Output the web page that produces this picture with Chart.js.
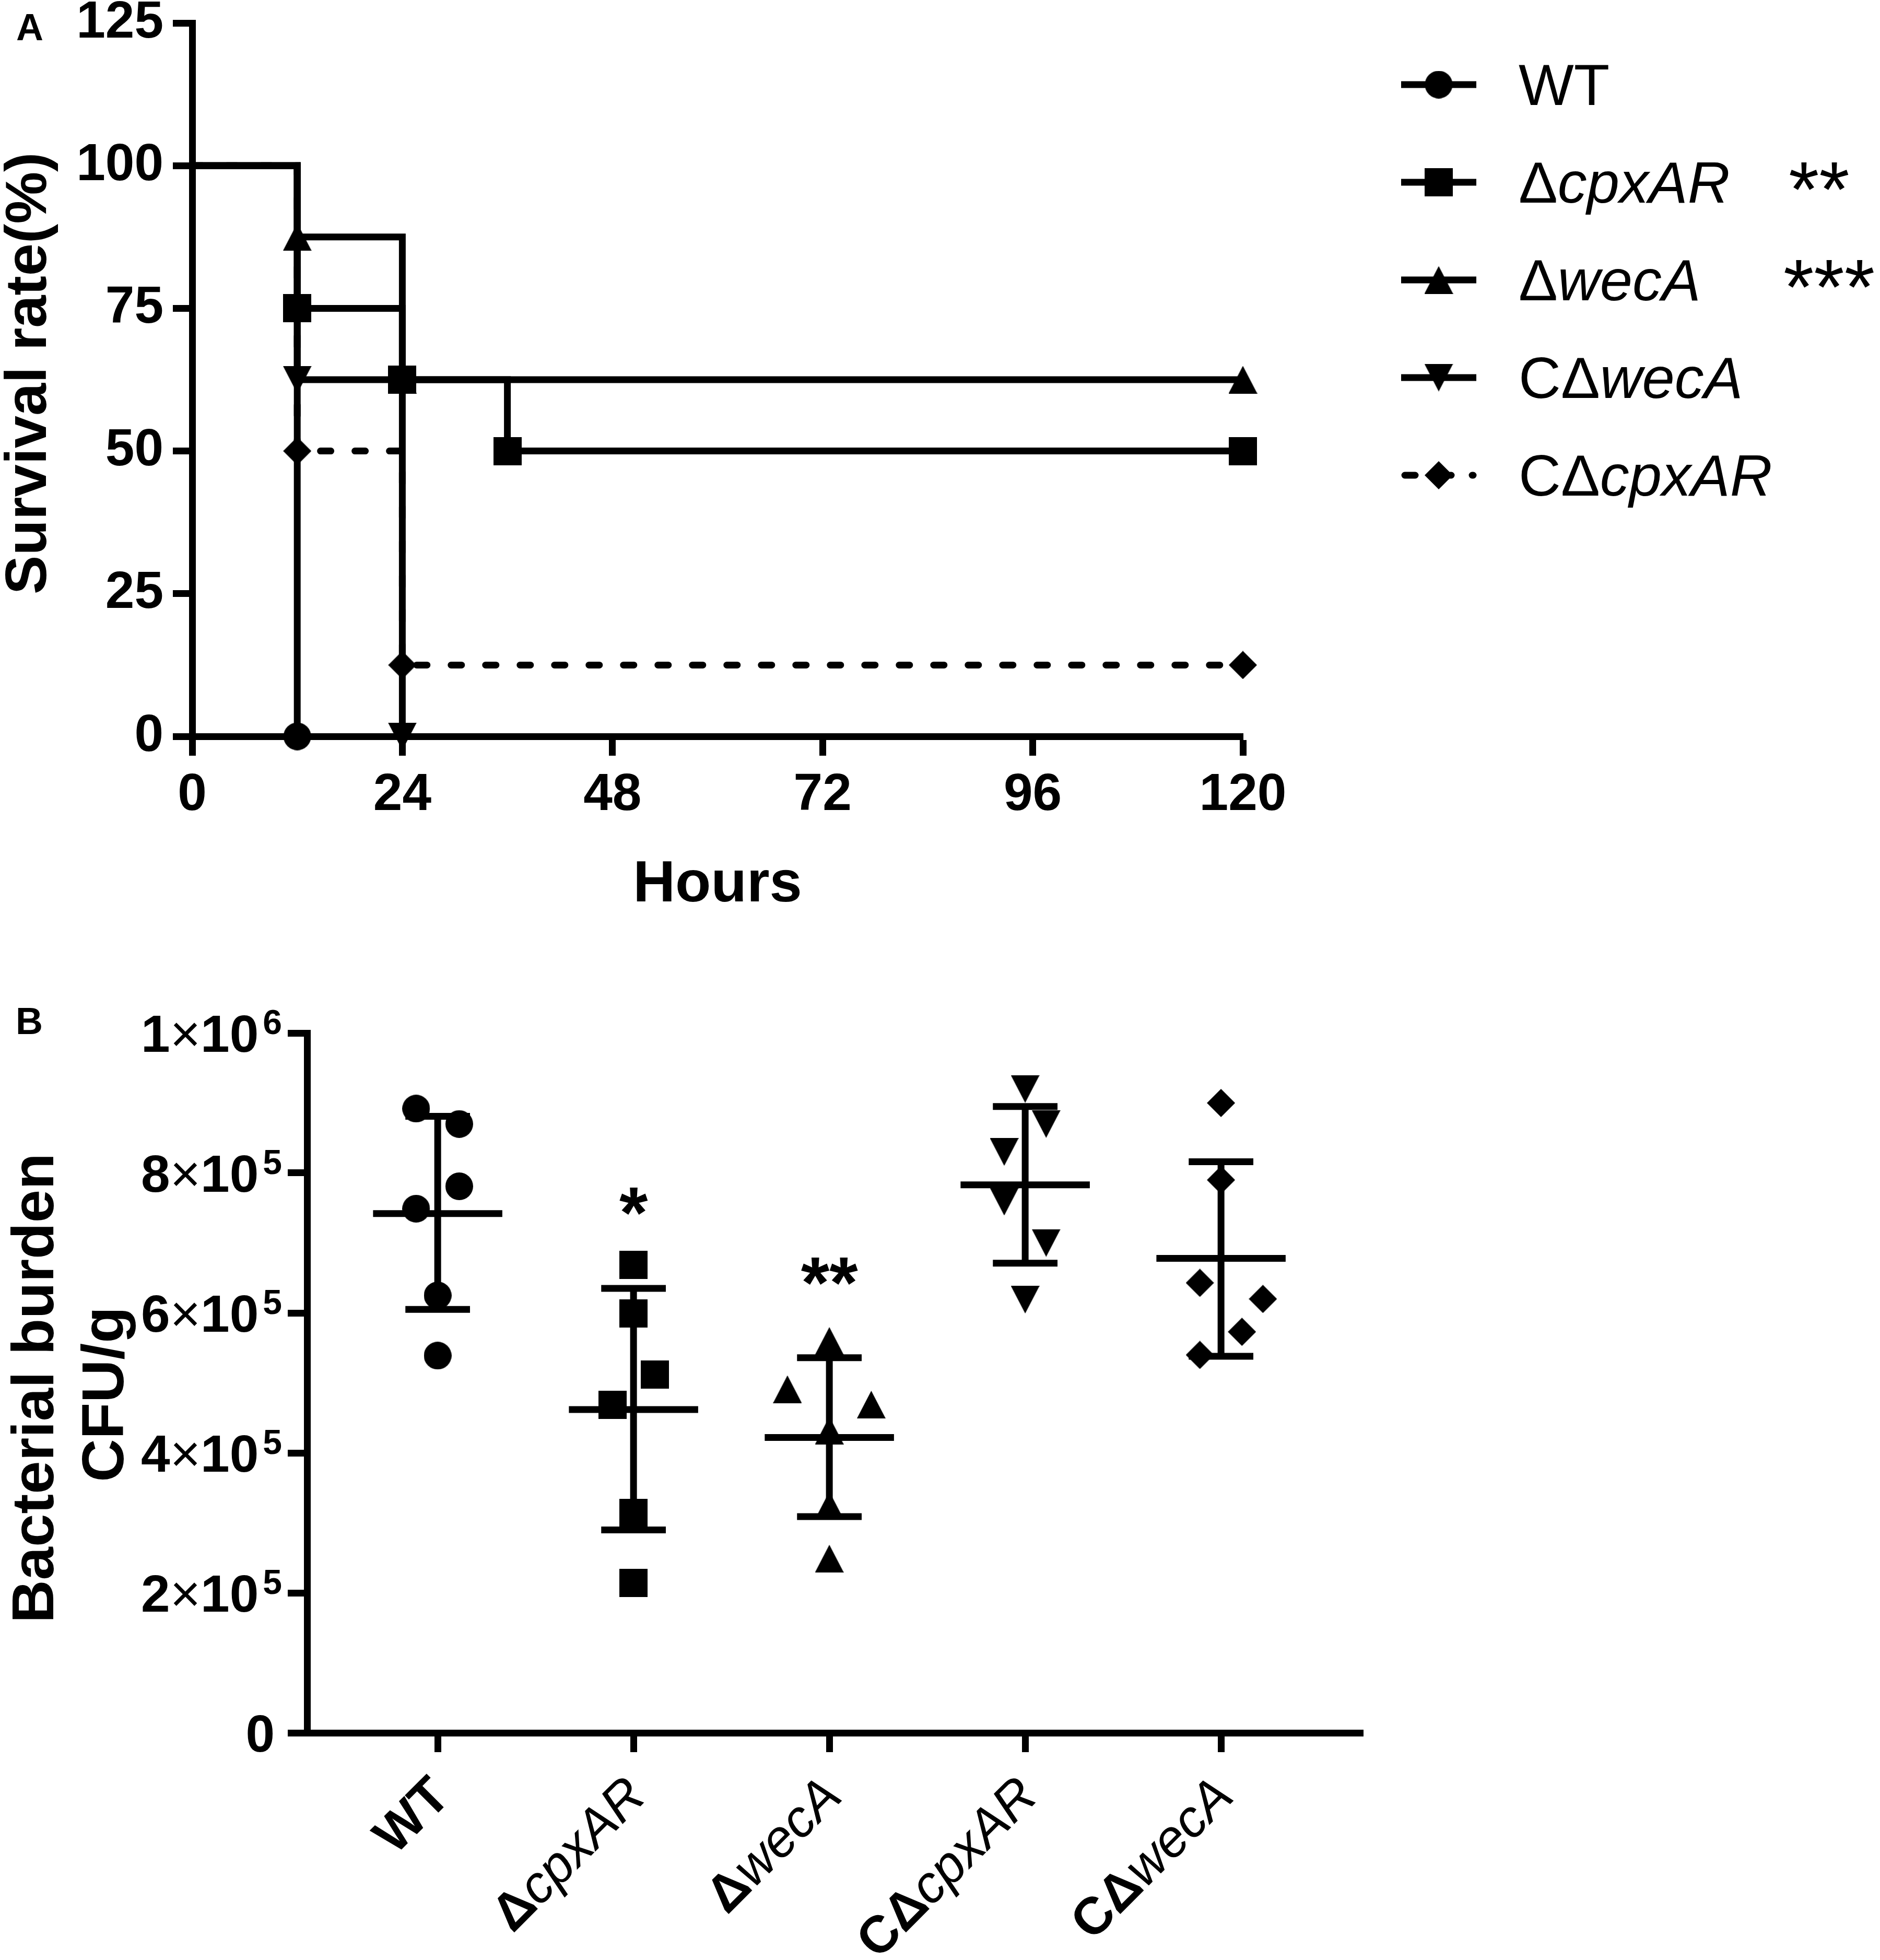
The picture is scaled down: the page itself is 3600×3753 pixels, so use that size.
<!DOCTYPE html>
<html>
<head>
<meta charset="utf-8">
<script src="https://cdn.jsdelivr.net/npm/chart.js@4.4.1/dist/chart.umd.min.js"></script>
<style>
  html, body { margin: 0; padding: 0; background: #fff; }
  body { width: 3600px; height: 3753px; position: relative; overflow: hidden; }
  .panel { position: absolute; left: 0; width: 3600px; }
  #boxA { top: 0; height: 1800px; }
  #boxB { top: 1800px; height: 1953px; }
</style>
</head>
<body>
<div class="panel" id="boxA"><canvas id="chartA"></canvas></div>
<div class="panel" id="boxB"><canvas id="chartB"></canvas></div>
<script>
// ---- Panel A : survival (Kaplan-Meier steps) ----
const seriesA = ['WT', 'ΔcpxAR', 'ΔwecA', 'CΔwecA', 'CΔcpxAR'];
const hoursWT = [0, 12];
const survWT = [100, 0];
const hoursCpx = [0, 12, 24, 36, 120];
const survCpx = [100, 75, 62.5, 50, 50];
const hoursWec = [0, 12, 24, 120];
const survWec = [100, 87.5, 62.5, 62.5];
const hoursCWec = [0, 12, 24];
const survCWec = [100, 62.5, 0];
const hoursCCpx = [0, 12, 24, 120];
const survCCpx = [100, 50, 12.5, 12.5];
const sigA = ['', '**', '***', '', ''];
const hourTicks = [0, 24, 48, 72, 96, 120];
const survTicks = [0, 25, 50, 75, 100, 125];

// ---- Panel B : bacterial burden ----
const groupsB = ['WT', 'ΔcpxAR', 'ΔwecA', 'CΔcpxAR', 'CΔwecA'];
const cfuWT = [8.92e5, 8.70e5, 7.81e5, 7.49e5, 6.25e5, 5.39e5];
const cfuCpx = [6.69e5, 5.99e5, 5.12e5, 4.69e5, 3.14e5, 2.14e5];
const cfuWec = [5.60e5, 4.91e5, 4.69e5, 4.32e5, 3.25e5, 2.49e5];
const cfuCCpx = [9.20e5, 8.70e5, 8.30e5, 7.59e5, 7.00e5, 6.19e5];
const cfuCWec = [9.00e5, 7.90e5, 6.43e5, 6.20e5, 5.73e5, 5.40e5];
const meanB = [7.42e5, 4.62e5, 4.22e5, 7.83e5, 6.78e5];
const sdHighB = [8.81e5, 6.35e5, 5.36e5, 8.95e5, 8.16e5];
const sdLowB = [6.05e5, 2.90e5, 3.09e5, 6.71e5, 5.38e5];
const starsB = ['', '*', '**', '', ''];
const starLevelB = [0, 7.6e5, 6.6e5, 0, 0];
const cfuTicks = [0, 2e5, 4e5, 6e5, 8e5, 1e6];
const cfuTickBase = ['0', '2', '4', '6', '8', '1'];
const cfuTickExp = ['', '5', '5', '5', '5', '6'];

// horizontal spread of the dots inside each group (as in the figure)
const jitterWT = [-0.11, 0.11, 0.11, -0.11, 0, 0];
const jitterCpx = [0, 0, 0.108, -0.108, 0, 0];
const jitterWec = [0, -0.214, 0.214, 0, 0, 0];
const jitterCCpx = [0, 0.107, -0.107, -0.107, 0.107, 0];
const jitterCWec = [0, 0, -0.108, 0.214, 0.107, -0.108];

const FONT = '"Liberation Sans", Arial, sans-serif';
const black = '#000';
Chart.defaults.font.family = FONT;
Chart.defaults.color = black;

// marker pictures
function marker(shape, w, h) {
  const c = document.createElement('canvas');
  c.width = w; c.height = h;
  const g = c.getContext('2d');
  g.fillStyle = black;
  g.beginPath();
  if (shape === 'circle') g.arc(w / 2, h / 2, w / 2, 0, Math.PI * 2);
  else if (shape === 'square') g.rect(0, 0, w, h);
  else if (shape === 'up') { g.moveTo(w / 2, 0); g.lineTo(w, h); g.lineTo(0, h); }
  else if (shape === 'down') { g.moveTo(0, 0); g.lineTo(w, 0); g.lineTo(w / 2, h); }
  else if (shape === 'diamond') { g.moveTo(w / 2, 0); g.lineTo(w, h / 2); g.lineTo(w / 2, h); g.lineTo(0, h / 2); }
  g.closePath();
  g.fill();
  return c;
}
const mCircle = marker('circle', 53, 53);
const mSquare = marker('square', 54, 54);
const mUp = marker('up', 55, 53);
const mDown = marker('down', 55, 53);
const mDiamond = marker('diamond', 54, 54);

// split "CΔwecA" into plain prefix + italic gene name
function splitGene(name) {
  const m = name.match(/^(C?Δ)(.+)$/);
  return m ? [{ t: m[1], it: false }, { t: m[2], it: true }] : [{ t: name, it: false }];
}
function partFont(p, size, bold) {
  return (p.it ? 'italic ' : '') + (bold && !p.it ? 'bold ' : '') + size + 'px ' + FONT;
}
function richWidth(ctx, parts, size, bold) {
  let w = 0;
  parts.forEach(p => { ctx.font = partFont(p, size, bold); w += ctx.measureText(p.t).width; });
  return w;
}
function drawRich(ctx, parts, x, y, size, bold) {
  let cx = x;
  parts.forEach(p => {
    ctx.font = partFont(p, size, bold);
    ctx.fillText(p.t, cx, y);
    cx += ctx.measureText(p.t).width;
  });
}
// text whose ink is centred on y
function inkCentered(ctx, txt, x, y) {
  const m = ctx.measureText(txt);
  ctx.fillText(txt, x, y + (m.actualBoundingBoxAscent - m.actualBoundingBoxDescent) / 2);
}

function stepSet(label, xs, ys, img, dashed) {
  return {
    label: label,
    data: xs.map((x, i) => ({ x: x, y: ys[i] })),
    showLine: true,
    stepped: 'before',
    borderColor: black,
    backgroundColor: black,
    borderWidth: 13,
    borderDash: dashed ? [20, 46] : [],
    borderCapStyle: dashed ? 'round' : 'butt',
    borderJoinStyle: 'miter',
    pointStyle: img,
    pointRadius: ctx => ctx.dataIndex === 0 ? 0 : 27,
    pointHoverRadius: ctx => ctx.dataIndex === 0 ? 0 : 27,
    clip: false
  };
}

function noPad(s) {
  s.paddingTop = 0; s.paddingBottom = 0; s.paddingLeft = 0; s.paddingRight = 0;
}
function axisOpts(extra) {
  return Object.assign({
    type: 'linear',
    grid: { display: true, drawOnChartArea: false, drawTicks: true, tickLength: 37, tickWidth: 13, tickColor: black },
    border: { display: true, color: black, width: 13 }
  }, extra);
}

// ---------------- Chart A ----------------
const H_A = 1800;
const legendPlugin = {
  id: 'panelA',
  afterDraw(chart) {
    const ctx = chart.ctx;
    const area = chart.chartArea;
    ctx.save();
    ctx.fillStyle = black;
    ctx.strokeStyle = black;
    // panel letter
    ctx.font = 'bold 72px ' + FONT;
    ctx.textAlign = 'left';
    ctx.textBaseline = 'alphabetic';
    ctx.fillText('A', 31, 77);
    // axis titles
    ctx.font = 'bold 112px ' + FONT;
    ctx.textAlign = 'center';
    ctx.fillText('Hours', (area.left + area.right) / 2, 1726);
    ctx.save();
    ctx.translate(88, (area.top + area.bottom) / 2 - 12);
    ctx.rotate(-Math.PI / 2);
    ctx.fillText('Survival rate(%)', 0, 0);
    ctx.restore();

    // legend
    const rows = [162, 349, 536, 723, 910];
    const imgs = [mCircle, mSquare, mUp, mDown, mDiamond];
    const x1 = 2683, x2 = 2827, xm = 2755, xt = 2908;
    ctx.lineWidth = 13;
    rows.forEach((ry, i) => {
      ctx.beginPath();
      if (i === 4) {
        ctx.lineCap = 'round';
        ctx.moveTo(x1 + 7, ry); ctx.lineTo(x1 + 27, ry);
        ctx.moveTo(xm + 22, ry); ctx.lineTo(xm + 24, ry);
        ctx.moveTo(x2 - 8, ry); ctx.lineTo(x2 - 6, ry);
      } else {
        ctx.lineCap = 'butt';
        ctx.moveTo(x1, ry); ctx.lineTo(x2, ry);
      }
      ctx.stroke();
      const im = imgs[i];
      ctx.drawImage(im, xm - im.width / 2, ry - im.height / 2);
      ctx.textAlign = 'left';
      ctx.textBaseline = 'alphabetic';
      drawRich(ctx, splitGene(seriesA[i]), xt, ry + 39, 112, false);
      if (sigA[i]) {
        ctx.font = '150px ' + FONT;
        inkCentered(ctx, sigA[i], sigA[i].length === 2 ? 3425 : 3415, ry - 12);
      }
    });
    ctx.restore();
  }
};

new Chart(document.getElementById('chartA'), {
  type: 'scatter',
  data: {
    datasets: [
      stepSet(seriesA[0], hoursWT, survWT, mCircle, false),
      stepSet(seriesA[1], hoursCpx, survCpx, mSquare, false),
      stepSet(seriesA[2], hoursWec, survWec, mUp, false),
      stepSet(seriesA[3], hoursCWec, survCWec, mDown, false),
      stepSet(seriesA[4], hoursCCpx, survCCpx, mDiamond, true)
    ]
  },
  options: {
    responsive: true,
    maintainAspectRatio: false,
    animation: false,
    events: [],
    layout: { autoPadding: false, padding: { left: 0, top: 44, right: 3600 - 2380, bottom: 0 } },
    plugins: { legend: { display: false }, tooltip: { enabled: false } },
    scales: {
      x: axisOpts({
        min: 0, max: 120,
        afterBuildTicks: s => { s.ticks = hourTicks.map(v => ({ value: v })); },
        afterFit: s => { s.height = H_A - 1410; noPad(s); },
        ticks: { font: { size: 100, weight: 'bold' }, color: black, padding: 16, maxRotation: 0, autoSkip: false }
      }),
      y: axisOpts({
        min: 0, max: 125,
        afterBuildTicks: s => { s.ticks = survTicks.map(v => ({ value: v })); },
        afterFit: s => { s.width = 368; noPad(s); },
        ticks: { font: { size: 100, weight: 'bold' }, color: black, padding: 18, autoSkip: false }
      })
    }
  },
  plugins: [legendPlugin]
});

// ---------------- Chart B ----------------
const H_B = 1953;
const TOP_B = 1800;
function dotSet(label, g, vals, jit, img) {
  return {
    label: label,
    data: vals.map((v, i) => ({ x: g + jit[i], y: v })),
    showLine: false,
    pointStyle: img,
    pointRadius: 27,
    pointHoverRadius: 27,
    backgroundColor: black,
    borderColor: black,
    clip: false
  };
}
const summaryPts = [];
groupsB.forEach((name, g) => {
  summaryPts.push({ x: g - 0.33, y: meanB[g] }, { x: g + 0.33, y: meanB[g] }, { x: g, y: null });
  summaryPts.push({ x: g - 0.165, y: sdHighB[g] }, { x: g + 0.165, y: sdHighB[g] }, { x: g, y: null });
  summaryPts.push({ x: g - 0.165, y: sdLowB[g] }, { x: g + 0.165, y: sdLowB[g] }, { x: g, y: null });
  summaryPts.push({ x: g, y: sdHighB[g] }, { x: g, y: sdLowB[g] }, { x: g, y: null });
});

const panelBPlugin = {
  id: 'panelB',
  afterDraw(chart) {
    const ctx = chart.ctx;
    const xs = chart.scales.x, ys = chart.scales.y;
    const axisY = chart.chartArea.bottom;
    ctx.save();
    ctx.fillStyle = black;
    // panel letter
    ctx.font = 'bold 72px ' + FONT;
    ctx.textAlign = 'left';
    ctx.textBaseline = 'alphabetic';
    ctx.fillText('B', 30, 1980 - TOP_B);

    // y tick labels  m×10^e
    cfuTicks.forEach((v, i) => {
      const y = ys.getPixelForValue(v);
      ctx.textAlign = 'left';
      if (!cfuTickExp[i]) {
        ctx.font = 'bold 100px ' + FONT;
        ctx.textAlign = 'right';
        ctx.fillText(cfuTickBase[i], 526, y + 36);
        return;
      }
      ctx.font = 'bold 100px ' + FONT;
      const wb = ctx.measureText(cfuTickBase[i]).width;
      const wt = ctx.measureText('10').width;
      ctx.font = '100px ' + FONT;
      const wx = ctx.measureText('×').width;
      ctx.font = 'bold 66px ' + FONT;
      const we = ctx.measureText(cfuTickExp[i]).width;
      const right = 540;
      let x = right - we - 8 - wt - wx - wb;
      ctx.font = 'bold 100px ' + FONT;
      ctx.fillText(cfuTickBase[i], x, y + 36); x += wb;
      ctx.font = '100px ' + FONT;
      ctx.fillText('×', x, y + 36); x += wx;
      ctx.font = 'bold 100px ' + FONT;
      ctx.fillText('10', x, y + 36); x += wt + 8;
      ctx.font = 'bold 66px ' + FONT;
      ctx.fillText(cfuTickExp[i], x, y + 2);
    });

    // rotated group labels
    groupsB.forEach((name, g) => {
      const px = xs.getPixelForValue(g) + 28;
      const py = axisY + 126;
      const parts = splitGene(name);
      const w = richWidth(ctx, parts, 100, true);
      ctx.save();
      ctx.translate(px, py);
      ctx.rotate(-Math.PI / 4);
      ctx.textAlign = 'left';
      ctx.textBaseline = 'alphabetic';
      drawRich(ctx, parts, -w, 0, 100, true);
      ctx.restore();
    });

    // significance marks
    ctx.font = 'bold 140px ' + FONT;
    ctx.textAlign = 'center';
    ctx.textBaseline = 'alphabetic';
    starsB.forEach((s, g) => {
      if (!s) return;
      inkCentered(ctx, s, xs.getPixelForValue(g), ys.getPixelForValue(starLevelB[g]));
    });

    // axis title
    ctx.font = 'bold 114px ' + FONT;
    ctx.textAlign = 'center';
    ctx.save();
    ctx.translate(102, 2658 - TOP_B);
    ctx.rotate(-Math.PI / 2);
    ctx.fillText('Bacterial burden', 0, 0);
    ctx.restore();
    ctx.save();
    ctx.translate(236, 2670 - TOP_B);
    ctx.rotate(-Math.PI / 2);
    ctx.fillText('CFU/g', 0, 0);
    ctx.restore();
    ctx.restore();
  }
};

new Chart(document.getElementById('chartB'), {
  type: 'scatter',
  data: {
    datasets: [
      {
        label: 'mean ± SD',
        data: summaryPts,
        showLine: true,
        spanGaps: false,
        borderColor: black,
        borderWidth: 13,
        borderCapStyle: 'butt',
        pointRadius: 0,
        pointHoverRadius: 0,
        clip: false
      },
      dotSet(groupsB[0], 0, cfuWT, jitterWT, mCircle),
      dotSet(groupsB[1], 1, cfuCpx, jitterCpx, mSquare),
      dotSet(groupsB[2], 2, cfuWec, jitterWec, mUp),
      dotSet(groupsB[3], 3, cfuCCpx, jitterCCpx, mDown),
      dotSet(groupsB[4], 4, cfuCWec, jitterCWec, mDiamond)
    ]
  },
  options: {
    responsive: true,
    maintainAspectRatio: false,
    animation: false,
    events: [],
    layout: { autoPadding: false, padding: { left: 0, top: 1978 - TOP_B, right: 3600 - 2610, bottom: 0 } },
    plugins: { legend: { display: false }, tooltip: { enabled: false } },
    scales: {
      x: axisOpts({
        min: -0.667, max: 4.725,
        afterBuildTicks: s => { s.ticks = groupsB.map((n, i) => ({ value: i })); },
        afterFit: s => { s.height = H_B - (3318 - TOP_B); noPad(s); },
        ticks: { display: false }
      }),
      y: axisOpts({
        min: 0, max: 1e6,
        afterBuildTicks: s => { s.ticks = cfuTicks.map(v => ({ value: v })); },
        afterFit: s => { s.width = 588; noPad(s); },
        ticks: { display: false }
      })
    }
  },
  plugins: [panelBPlugin]
});
</script>
</body>
</html>
